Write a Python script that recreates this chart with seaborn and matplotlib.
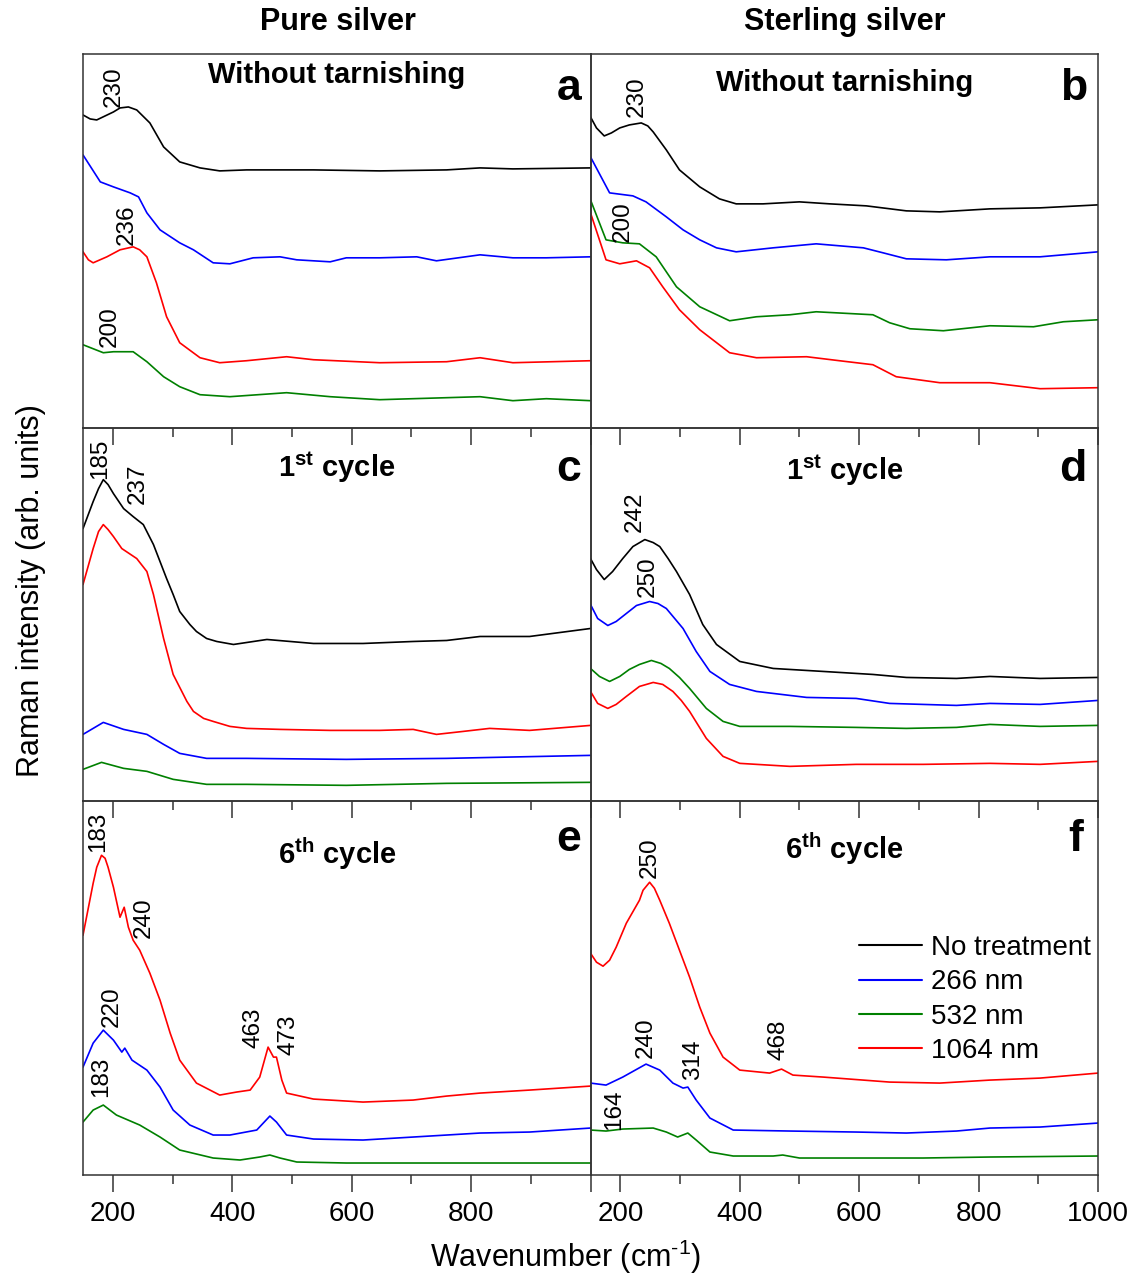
import matplotlib
matplotlib.use("Agg")
import matplotlib.pyplot as plt
import seaborn as sns
import pandas as pd
from matplotlib.lines import Line2D
from matplotlib.ticker import MultipleLocator

# ---------------- data ----------------
SERIES = ["No treatment", "266 nm", "532 nm", "1064 nm"]
COLORS = ["#000000", "#0000ff", "#008000", "#ff0000"]
XTICKS = [200, 400, 600, 800, 1000]
XTICK_LABELS_LEFT = ["200", "400", "600", "800", ""]
XTICK_LABELS_RIGHT = ["200", "400", "600", "800", "1000"]
COLUMN_TITLES = ["Pure silver", "Sterling silver"]
PANEL_TITLES = ["Without tarnishing", "Without tarnishing",
                r"1$^{\mathbf{st}}$ cycle", r"1$^{\mathbf{st}}$ cycle",
                r"6$^{\mathbf{th}}$ cycle", r"6$^{\mathbf{th}}$ cycle"]
PANEL_LETTERS = ["a", "b", "c", "d", "e", "f"]

# panel a
a_none_x = [150, 162, 173, 187, 201, 212, 226, 240, 262, 285, 312, 346, 379, 424, 536, 647, 759, 815, 870, 1000]
a_none_y = [313, 309, 308, 312, 316, 320, 321, 318, 305, 281, 266, 260, 257, 258, 258, 257, 258, 260, 259, 260]
a_266_x = [150, 179, 201, 229, 243, 257, 279, 312, 335, 368, 396, 435, 480, 508, 564, 591, 647, 709, 742, 815, 870, 926, 1000]
a_266_y = [273, 246, 241, 235, 231, 215, 198, 185, 178, 165, 164, 170, 171, 168, 166, 170, 170, 171, 167, 173, 170, 170, 171]
a_532_x = [150, 184, 201, 234, 257, 285, 312, 346, 396, 491, 564, 647, 703, 815, 870, 926, 1000]
a_532_y = [83, 75, 76, 76, 66, 51, 41, 33, 31, 35, 31, 28, 29, 31, 27, 29, 27]
a_1064_x = [150, 159, 167, 190, 212, 234, 245, 257, 273, 290, 312, 346, 379, 424, 491, 536, 647, 759, 815, 870, 1000]
a_1064_y = [176, 168, 165, 171, 178, 181, 178, 171, 145, 111, 85, 70, 65, 67, 71, 68, 65, 66, 70, 65, 67]

# panel b
b_none_x = [150, 160, 173, 185, 199, 215, 235, 246, 255, 277, 299, 333, 366, 394, 439, 500, 551, 612, 679, 735, 819, 903, 1000]
b_none_y = [311, 300, 292, 295, 300, 303, 305, 302, 296, 278, 258, 241, 229, 224, 224, 226, 224, 222, 217, 216, 219, 220, 223]
b_266_x = [150, 182, 221, 243, 277, 305, 333, 361, 394, 456, 528, 607, 640, 679, 746, 819, 903, 1000]
b_266_y = [271, 235, 232, 226, 211, 198, 188, 180, 176, 180, 184, 180, 175, 169, 168, 171, 171, 176]
b_532_x = [150, 176, 204, 232, 260, 294, 333, 383, 428, 484, 528, 623, 651, 685, 741, 819, 892, 942, 1000]
b_532_y = [228, 188, 185, 184, 171, 141, 121, 107, 111, 113, 116, 113, 105, 99, 97, 102, 101, 106, 108]
b_1064_x = [150, 176, 199, 227, 249, 271, 299, 333, 383, 428, 512, 567, 623, 662, 735, 819, 903, 1000]
b_1064_y = [215, 168, 164, 167, 160, 141, 118, 98, 75, 70, 71, 67, 63, 51, 45, 45, 39, 40]

# panel c
c_none_x = [150, 167, 176, 184, 192, 201, 218, 234, 251, 268, 290, 301, 312, 329, 340, 357, 374, 402, 458, 536, 619, 703, 759, 815, 898, 1000]
c_none_y = [273, 300, 313, 322, 317, 308, 293, 285, 277, 257, 223, 207, 190, 177, 170, 163, 160, 157, 162, 158, 158, 160, 161, 165, 165, 173]
c_266_x = [150, 184, 218, 257, 285, 312, 357, 424, 591, 759, 1000]
c_266_y = [67, 79, 72, 67, 57, 48, 43, 43, 42, 43, 46]
c_532_x = [150, 181, 218, 257, 301, 357, 424, 591, 759, 1000]
c_532_y = [32, 39, 33, 30, 22, 17, 17, 16, 18, 19]
c_1064_x = [150, 167, 176, 184, 192, 201, 215, 240, 257, 268, 285, 301, 324, 335, 352, 368, 396, 424, 480, 564, 647, 703, 742, 787, 831, 898, 1000]
c_1064_y = [217, 253, 270, 277, 272, 265, 253, 243, 230, 207, 163, 127, 100, 90, 83, 80, 75, 73, 72, 71, 71, 72, 67, 70, 73, 71, 76]

# panel d
d_none_x = [150, 160, 173, 187, 204, 221, 241, 255, 266, 280, 294, 316, 338, 361, 400, 456, 540, 623, 679, 763, 819, 903, 1000]
d_none_y = [243, 232, 222, 230, 243, 255, 262, 259, 255, 243, 230, 207, 177, 157, 140, 133, 130, 127, 124, 123, 125, 123, 124]
d_266_x = [150, 162, 179, 193, 210, 227, 249, 263, 277, 291, 305, 327, 350, 383, 428, 512, 595, 651, 763, 819, 903, 1000]
d_266_y = [197, 183, 176, 180, 188, 196, 200, 198, 193, 183, 173, 150, 130, 117, 110, 104, 103, 98, 96, 98, 97, 101]
d_532_x = [150, 165, 182, 199, 215, 232, 252, 268, 282, 299, 316, 344, 372, 400, 484, 595, 679, 763, 819, 903, 1000]
d_532_y = [133, 125, 120, 125, 132, 137, 141, 138, 133, 124, 113, 93, 80, 75, 75, 74, 73, 74, 77, 75, 76]
d_1064_x = [150, 162, 179, 193, 210, 232, 255, 271, 288, 302, 316, 344, 372, 400, 484, 595, 707, 819, 903, 1000]
d_1064_y = [110, 98, 93, 97, 105, 115, 119, 117, 110, 101, 90, 63, 45, 38, 35, 37, 37, 38, 37, 40]

# panel e
e_266_x = [150, 167, 184, 201, 215, 220, 232, 257, 279, 301, 329, 368, 396, 441, 463, 474, 491, 536, 619, 703, 815, 898, 1000]
e_266_y = [108, 132, 145, 135, 123, 127, 115, 105, 88, 65, 50, 40, 40, 45, 59, 53, 40, 36, 35, 38, 42, 43, 47]
e_532_x = [150, 167, 184, 206, 245, 279, 312, 368, 413, 446, 463, 480, 508, 591, 703, 815, 1000]
e_532_y = [53, 65, 70, 60, 50, 38, 25, 17, 15, 18, 20, 17, 13, 12, 12, 12, 12]
e_1064_x = [150, 167, 173, 181, 187, 192, 201, 212, 219, 226, 234, 245, 262, 279, 296, 312, 340, 379, 407, 430, 446, 460, 469, 474, 483, 491, 536, 619, 703, 759, 815, 898, 1000]
e_1064_y = [240, 292, 308, 320, 317, 308, 288, 258, 268, 248, 235, 225, 202, 175, 142, 115, 92, 80, 83, 85, 98, 128, 118, 118, 95, 82, 76, 73, 75, 79, 82, 85, 89]

# panel f
f_266_x = [150, 176, 204, 243, 266, 288, 305, 313, 327, 350, 389, 484, 595, 679, 763, 819, 903, 1000]
f_266_y = [92, 90, 98, 111, 105, 92, 87, 88, 75, 57, 45, 44, 43, 42, 44, 47, 48, 52]
f_532_x = [150, 176, 204, 255, 277, 296, 313, 327, 350, 389, 456, 472, 500, 595, 707, 819, 1000]
f_532_y = [45, 44, 46, 47, 43, 38, 42, 35, 23, 19, 19, 20, 17, 17, 17, 18, 19]
f_1064_x = [150, 160, 171, 182, 193, 210, 232, 238, 249, 257, 266, 282, 299, 316, 333, 350, 372, 400, 450, 470, 489, 540, 651, 735, 819, 903, 1000]
f_1064_y = [222, 213, 209, 215, 228, 252, 275, 285, 293, 287, 275, 252, 225, 198, 168, 142, 118, 105, 102, 106, 100, 98, 93, 92, 95, 97, 102]

# peak labels: (text, wavenumber, intensity at bottom of text)
notes_a = [("230", 201, 321), ("236", 223, 183), ("200", 194, 81)]
notes_b = [("230", 227, 311), ("200", 204, 186)]
notes_c = [("185", 179, 323), ("237", 241, 298)]
notes_d = [("242", 224, 270), ("250", 246, 205)]
notes_e = [("183", 176, 323), ("240", 252, 237), ("220", 198, 148),
           ("183", 181, 78), ("463", 436, 127), ("473", 495, 120)]
notes_f = [("250", 249, 297), ("240", 243, 117), ("314", 322, 95),
           ("468", 465, 115), ("164", 190, 45)]

# ---------------- assemble long table ----------------
panel_series = {
    "a": [("No treatment", a_none_x, a_none_y), ("266 nm", a_266_x, a_266_y),
          ("532 nm", a_532_x, a_532_y), ("1064 nm", a_1064_x, a_1064_y)],
    "b": [("No treatment", b_none_x, b_none_y), ("266 nm", b_266_x, b_266_y),
          ("532 nm", b_532_x, b_532_y), ("1064 nm", b_1064_x, b_1064_y)],
    "c": [("No treatment", c_none_x, c_none_y), ("266 nm", c_266_x, c_266_y),
          ("532 nm", c_532_x, c_532_y), ("1064 nm", c_1064_x, c_1064_y)],
    "d": [("No treatment", d_none_x, d_none_y), ("266 nm", d_266_x, d_266_y),
          ("532 nm", d_532_x, d_532_y), ("1064 nm", d_1064_x, d_1064_y)],
    "e": [("266 nm", e_266_x, e_266_y), ("532 nm", e_532_x, e_532_y),
          ("1064 nm", e_1064_x, e_1064_y)],
    "f": [("266 nm", f_266_x, f_266_y), ("532 nm", f_532_x, f_532_y),
          ("1064 nm", f_1064_x, f_1064_y)],
}
panel_notes = {"a": notes_a, "b": notes_b, "c": notes_c,
               "d": notes_d, "e": notes_e, "f": notes_f}

rows = []
for p, lst in panel_series.items():
    for name, xs, ys in lst:
        for x, y in zip(xs, ys):
            rows.append((p, name, x, y))
df = pd.DataFrame(rows, columns=["panel", "series", "wavenumber", "intensity"])
palette = dict(zip(SERIES, COLORS))

# ---------------- style ----------------
sns.set_style("white")
plt.rcParams["font.family"] = ["Liberation Sans", "DejaVu Sans"]
plt.rcParams["text.color"] = "black"
plt.rcParams["axes.labelcolor"] = "black"
plt.rcParams["xtick.color"] = "black"
plt.rcParams["ytick.color"] = "black"
plt.rcParams["mathtext.fontset"] = "custom"
plt.rcParams["mathtext.rm"] = "Liberation Sans"
plt.rcParams["mathtext.bf"] = "Liberation Sans:bold"
plt.rcParams["mathtext.it"] = "Liberation Sans:italic"

W, H = 1135, 1279
fig, axes = plt.subplots(3, 2, figsize=(W / 100, H / 100), dpi=100)
fig.patch.set_facecolor("white")
fig.subplots_adjust(left=83 / W, right=1098 / W, top=1 - 54 / H,
                    bottom=1 - 1175 / H, wspace=0, hspace=0)

title_y = [0.944, 0.922, 0.893, 0.885, 0.861, 0.872]
letter_x = [0.982, 0.978, 0.982, 0.978, 0.982, 0.970]
letter_y = [0.877, 0.877, 0.858, 0.858, 0.867, 0.867]

for i, ax in enumerate(axes.flat):
    p = PANEL_LETTERS[i]
    row, col = divmod(i, 2)
    sub = df[df["panel"] == p]
    sns.lineplot(data=sub, x="wavenumber", y="intensity", hue="series",
                 palette=palette, estimator=None, sort=False, legend=False,
                 linewidth=1.2, ax=ax)
    ax.set_facecolor("none")
    ax.set_xlabel("")
    ax.set_ylabel("")
    ax.set_xlim(150, 1000)
    ax.set_ylim(0, 374)
    ax.set_yticks([])
    ax.set_xticks(XTICKS)
    ax.xaxis.set_minor_locator(MultipleLocator(100))
    ax.set_xticklabels(XTICK_LABELS_LEFT if col == 0 else XTICK_LABELS_RIGHT)
    ax.tick_params(axis="x", which="major", direction="out", length=12,
                   width=1.1, labelsize=20, pad=7, color="#333333",
                   labelcolor="black",
                   bottom=True, top=False, labelbottom=(row == 2))
    ax.tick_params(axis="x", which="minor", direction="out", length=6.5,
                   width=1.1, color="#333333", bottom=True, top=False)
    for s in ax.spines.values():
        s.set_linewidth(1.1)
        s.set_color("#333333")
    ax.text(0.5, title_y[i], PANEL_TITLES[i], transform=ax.transAxes,
            ha="center", va="center", fontsize=21, fontweight="bold",
            color="black")
    ax.text(letter_x[i], letter_y[i], p, transform=ax.transAxes,
            ha="right", va="baseline", fontsize=32, fontweight="bold",
            color="black")
    for txt, x, y in panel_notes[p]:
        ax.text(x, y, txt, rotation=90, ha="center", va="bottom",
                fontsize=17.5, color="black")

# legend in panel f
handles = [Line2D([], [], color=c, lw=1.5) for c in COLORS]
leg = axes[2, 1].legend(handles, SERIES, loc="upper left",
                        bbox_to_anchor=(0.530, 0.642), frameon=False,
                        fontsize=20, handlelength=2.25, handletextpad=0.32,
                        labelspacing=0.3, borderpad=0, borderaxespad=0)
for t in leg.get_texts():
    t.set_color("black")

fig.text(337.5 / W, 1 - 22 / H, COLUMN_TITLES[0], ha="center", va="center",
         fontsize=22, fontweight="bold", color="black")
fig.text(845 / W, 1 - 22 / H, COLUMN_TITLES[1], ha="center", va="center",
         fontsize=22, fontweight="bold", color="black")
fig.text(31 / W, 1 - 591 / H, "Raman intensity (arb. units)", rotation=90,
         ha="center", va="center", fontsize=22, color="black")
fig.text(566 / W, 1 - 1257 / H, r"Wavenumber (cm$^{\text{-1}}$)",
         ha="center", va="center", fontsize=22, color="black")

fig.savefig("out.png", dpi=100)
